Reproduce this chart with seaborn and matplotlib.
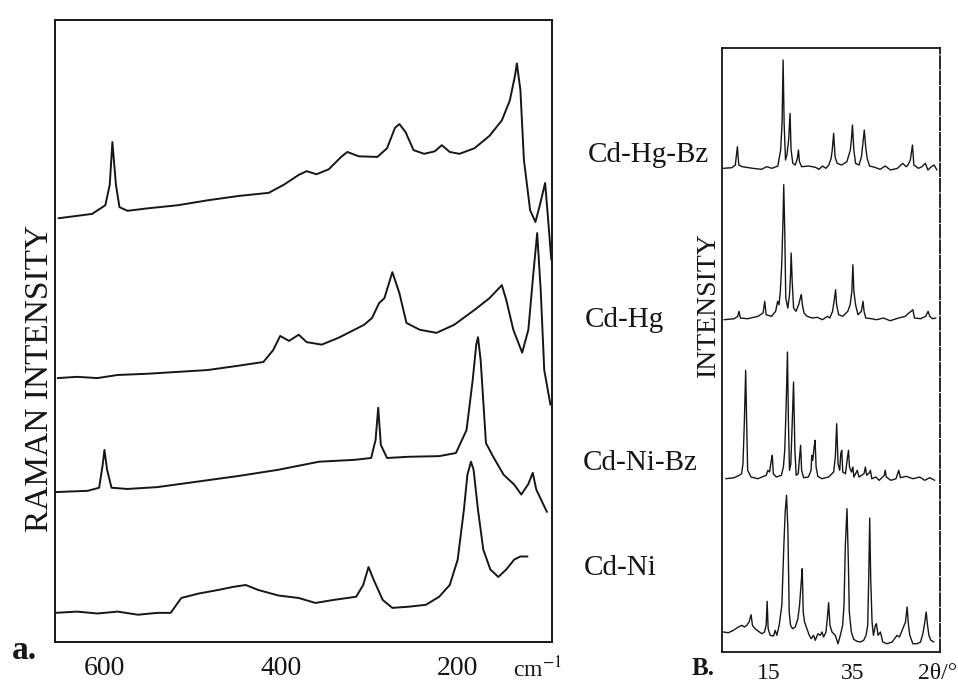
import numpy as np
import pandas as pd
import seaborn as sns
import matplotlib.pyplot as plt

# ---------------- Raman spectra (wavenumber cm-1, intensity a.u. above own baseline) ----------------
hgbz_cm = [652, 614, 599, 594, 591, 587, 583, 574, 551, 517, 483, 448, 414, 397, 380, 371, 360, 346, 332,
           325, 312, 291, 280, 271, 266, 259, 250, 238, 226, 218, 209, 198, 181, 164, 150, 141, 135, 133,
           129, 125, 118, 112, 107, 101, 98, 94]
hgbz_int = [6.9, 7.6, 9.0, 12.3, 19.2, 12.3, 8.7, 8.1, 8.5, 9.0, 9.8, 10.5, 11.0, 12.3, 13.9, 14.5, 14.0,
            14.8, 16.8, 17.6, 16.9, 16.8, 18.2, 21.5, 22.1, 20.8, 17.9, 17.3, 17.7, 18.7, 17.6, 17.3, 18.2,
            20.2, 22.7, 25.9, 30.0, 31.9, 27.6, 16.3, 8.2, 6.3, 9.0, 12.6, 7.4, 0.2]

hg_cm = [653, 631, 608, 585, 551, 517, 483, 448, 420, 409, 401, 391, 380, 371, 354, 335, 317, 306, 297,
         289, 283, 274, 266, 258, 243, 224, 204, 181, 164, 150, 145, 137, 127, 120, 114, 110, 106, 102, 95]
hg_int = [5.1, 5.3, 5.1, 5.6, 5.8, 6.1, 6.4, 7.1, 7.7, 9.6, 11.9, 11.1, 12.1, 10.9, 10.5, 11.6, 12.9, 13.7,
          14.8, 17.2, 18.0, 22.2, 18.8, 14.0, 12.9, 12.4, 13.7, 16.1, 18.0, 20.1, 17.7, 12.9, 9.2, 12.9,
          22.5, 28.5, 19.3, 6.4, 0.8]

nibz_cm = [655, 619, 606, 602, 600, 597, 592, 574, 540, 494, 448, 403, 357, 317, 298, 293, 290, 287, 280,
           255, 221, 202, 190, 183, 179, 177, 174, 168, 159, 148, 136, 128, 120, 115, 111, 99]
nibz_int = [3.7, 3.9, 4.4, 8.1, 10.5, 7.3, 4.4, 4.2, 4.5, 5.4, 6.3, 7.3, 8.6, 8.9, 9.2, 12.1, 17.3, 11.3,
            9.2, 9.4, 9.5, 10.0, 13.7, 21.8, 27.5, 28.7, 25.0, 11.6, 9.2, 6.5, 4.9, 3.3, 5.0, 6.8, 4.1, 0.5]

ni_cm = [656, 631, 608, 585, 562, 540, 525, 513, 494, 471, 454, 440, 426, 403, 380, 361, 340, 315, 307,
         301, 295, 285, 274, 255, 236, 221, 209, 200, 193, 189, 185, 182, 177, 171, 163, 154, 145, 136,
         129, 121]
ni_int = [3.2, 3.4, 3.1, 3.4, 2.9, 3.2, 3.2, 5.6, 6.3, 6.9, 7.4, 7.7, 6.9, 6.0, 5.6, 4.8, 5.3, 5.8, 7.7,
          10.6, 8.5, 5.3, 4.0, 4.2, 4.5, 5.8, 7.7, 11.8, 19.8, 25.5, 27.6, 26.3, 19.8, 13.4, 10.2, 9.0,
          10.2, 11.8, 12.3, 12.3]

raman_names = ['Cd-Hg-Bz', 'Cd-Hg', 'Cd-Ni-Bz', 'Cd-Ni']
raman_x = [hgbz_cm, hg_cm, nibz_cm, ni_cm]
raman_y = [hgbz_int, hg_int, nibz_int, ni_int]
raman_offset = [60, 36, 19, 0]

# ---------------- XRD patterns (2theta deg, intensity a.u. above own baseline) ----------------
x_hgbz_2t = [4.25, 6.31, 7.14, 7.63, 7.96, 8.79, 11.26, 13.32, 14.56, 15.80, 17.20, 17.87, 18.20, 18.45,
             18.69, 19.02, 19.35, 19.76, 20.09, 20.34, 20.75, 21.32, 21.83, 22.08, 22.32, 22.82, 24.47,
             26.12, 26.95, 27.77, 28.59, 29.26, 29.82, 30.08, 30.41, 30.74, 31.24, 32.30, 33.54, 34.36,
             34.61, 34.86, 35.19, 35.60, 36.42, 36.99, 37.42, 37.66, 37.99, 38.34, 38.91, 40.15, 41.39,
             42.63, 43.86, 45.52, 46.76, 47.57, 47.99, 48.56, 49.06, 49.40, 50.47, 51.29, 52.12, 52.71,
             53.53, 54.19, 54.85]
x_hgbz_int = [1.7, 2.3, 5.0, 23.3, 5.0, 3.3, 1.7, 0.7, 3.3, 1.7, 4.0, 20.0, 46.7, 110.0, 46.7, 10.0, 15.0,
              30.0, 56.7, 20.0, 6.7, 5.0, 11.7, 20.0, 8.3, 3.3, 4.0, 2.7, 0.7, 4.0, 1.7, 5.0, 11.7, 20.0,
              36.7, 13.3, 6.7, 5.0, 8.3, 20.0, 30.0, 45.0, 20.0, 6.7, 5.0, 13.3, 30.0, 40.0, 23.3, 11.7,
              4.0, 2.7, 0.7, 4.0, 0.0, 1.7, 6.7, 3.3, 5.0, 10.0, 25.0, 5.0, 1.7, 3.3, 6.7, 0.0, 3.3, 5.0,
              0.0]

x_hg_2t = [4.48, 6.89, 7.69, 8.01, 8.33, 10.09, 12.50, 13.70, 14.11, 14.43, 15.71, 16.68, 17.16, 17.48,
           17.80, 18.12, 18.44, 18.60, 18.84, 19.08, 19.56, 19.97, 20.21, 20.36, 20.60, 20.93, 21.49,
           22.13, 22.53, 22.77, 23.01, 23.41, 24.13, 25.34, 26.54, 27.74, 28.95, 29.50, 30.15, 30.63,
           30.87, 31.11, 31.59, 32.56, 33.76, 34.32, 34.72, 34.96, 35.20, 35.60, 36.17, 36.97, 37.37,
           37.61, 38.01, 39.37, 40.57, 42.18, 43.78, 45.79, 47.39, 48.19, 48.75, 49.15, 49.55, 50.99,
           52.19, 52.76, 53.16, 53.80, 54.61]
x_hg_int = [3.3, 4.3, 6.7, 11.7, 5.0, 4.3, 6.7, 10.0, 21.7, 8.3, 6.7, 11.7, 21.7, 18.3, 31.7, 58.3, 105.0,
            138.3, 91.7, 25.0, 15.0, 28.3, 48.3, 70.0, 41.7, 15.0, 11.7, 18.3, 25.0, 28.3, 18.3, 10.0, 6.7,
            5.0, 5.7, 3.3, 6.7, 5.0, 11.7, 25.0, 33.3, 18.3, 8.3, 6.7, 11.7, 18.3, 31.7, 58.3, 31.7, 18.3,
            8.3, 11.7, 21.7, 11.7, 5.0, 4.3, 3.3, 5.0, 2.3, 5.0, 6.7, 10.0, 11.7, 13.3, 5.0, 4.3, 6.7,
            11.7, 6.7, 4.3, 5.0]

x_nibz_2t = [4.88, 6.87, 8.07, 8.63, 8.95, 9.27, 9.59, 9.83, 10.06, 10.86, 12.46, 14.45, 14.85, 15.25,
             15.65, 15.89, 16.13, 16.85, 18.04, 18.52, 18.84, 19.16, 19.48, 19.72, 19.96, 20.28, 20.60,
             20.92, 21.24, 21.55, 22.03, 22.35, 22.59, 22.83, 23.31, 24.43, 25.07, 25.23, 25.47, 25.79,
             26.02, 26.26, 26.66, 27.62, 29.22, 30.41, 30.81, 31.13, 31.45, 31.85, 32.09, 32.33, 32.57,
             33.21, 33.69, 33.93, 34.16, 34.64, 34.96, 35.20, 36.00, 36.40, 37.60, 37.92, 38.24, 38.80,
             39.11, 39.43, 40.39, 41.19, 42.38, 42.62, 42.86, 43.98, 45.17, 45.81, 46.21, 47.57, 49.17,
             50.77, 51.96, 53.16, 54.35]
x_nibz_int = [3.3, 4.3, 6.7, 8.3, 18.3, 58.3, 111.7, 58.3, 11.7, 5.0, 3.3, 6.7, 11.7, 10.0, 21.7, 26.7,
              8.3, 5.0, 6.7, 15.0, 31.7, 75.0, 130.0, 58.3, 11.7, 18.3, 58.3, 100.0, 31.7, 6.7, 8.3, 25.0,
              36.7, 11.7, 4.3, 5.0, 11.7, 26.7, 21.7, 35.0, 41.7, 15.0, 5.7, 3.3, 5.0, 10.0, 25.0, 58.3,
              18.3, 11.7, 28.3, 31.7, 10.0, 8.3, 25.0, 31.7, 15.0, 10.0, 15.0, 5.0, 11.7, 5.0, 8.3, 15.0,
              6.7, 9.0, 11.7, 3.3, 5.0, 1.7, 6.7, 11.7, 5.0, 1.7, 3.3, 11.7, 4.3, 5.7, 3.3, 5.0, 1.7, 4.3,
              1.7]

x_ni_2t = [4.32, 5.50, 6.69, 7.87, 8.67, 9.30, 9.85, 10.40, 10.88, 11.19, 11.83, 12.62, 13.41, 14.04,
           14.44, 14.67, 14.91, 15.39, 16.18, 16.57, 16.97, 17.52, 18.15, 18.63, 18.94, 19.26, 19.58,
           19.89, 20.21, 20.68, 21.32, 21.95, 22.34, 22.74, 22.98, 23.21, 23.53, 24.08, 24.64, 25.11,
           25.66, 26.06, 26.69, 27.25, 27.64, 28.04, 28.59, 28.91, 29.22, 29.54, 30.02, 30.80, 31.44,
           31.99, 32.54, 32.86, 33.18, 33.57, 33.89, 34.12, 34.60, 35.15, 35.94, 36.73, 37.52, 38.08,
           38.47, 38.71, 38.95, 39.18, 39.50, 39.82, 40.29, 40.53, 40.92, 41.48, 42.03, 43.06, 44.24,
           45.43, 45.98, 46.62, 47.09, 47.41, 47.80, 48.12, 48.44, 49.15, 50.18, 50.97, 51.52, 51.99,
           52.31, 52.63, 52.95, 53.42, 54.13]
x_ni_int = [20.0, 19.3, 21.7, 25.0, 26.7, 25.0, 26.7, 30.0, 37.3, 26.7, 23.3, 20.7, 18.3, 20.0, 26.7,
            50.7, 23.3, 16.7, 16.0, 21.7, 16.7, 26.7, 46.7, 106.7, 140.0, 156.7, 123.3, 40.0, 26.7, 23.3,
            25.0, 33.3, 46.7, 70.0, 83.3, 40.0, 30.0, 23.3, 16.7, 13.3, 16.7, 11.7, 18.3, 16.7, 20.0,
            15.0, 20.0, 33.3, 49.3, 26.7, 20.0, 16.7, 8.3, 16.7, 26.7, 46.7, 106.7, 143.3, 90.0, 40.0,
            20.0, 12.7, 10.7, 10.0, 11.7, 16.7, 26.7, 73.3, 134.0, 73.3, 30.0, 16.7, 26.7, 28.3, 16.7,
            20.0, 10.0, 8.3, 10.0, 16.7, 15.0, 21.7, 26.7, 30.0, 45.0, 26.7, 16.7, 8.3, 8.3, 10.0, 18.3,
            30.0, 40.0, 26.7, 16.7, 11.7, 10.0]

xrd_x = [x_hgbz_2t, x_hg_2t, x_nibz_2t, x_ni_2t]
xrd_y = [x_hgbz_int, x_hg_int, x_nibz_int, x_ni_int]
xrd_offset = [482, 329, 170, 0]

# ------------------------------------ plotting ------------------------------------
sns.set_theme(style="white")
plt.rcParams['font.family'] = ['Liberation Serif', 'DejaVu Serif']
plt.rcParams['mathtext.fontset'] = 'stix'
ink = '#161616'

fig = plt.figure(figsize=(9.58, 6.88), dpi=100)
ax_r = fig.add_axes([0.0574, 0.0669, 0.519, 0.904])
ax_x = fig.add_axes([0.7537, 0.0523, 0.2276, 0.8779])

for name, xs, ys, off in zip(raman_names, raman_x, raman_y, raman_offset):
    d = pd.DataFrame({'cm': xs, 'I': np.array(ys) + off})
    sns.lineplot(data=d, x='cm', y='I', ax=ax_r, color=ink, lw=1.4, estimator=None, sort=False)

for xs, ys, off in zip(xrd_x, xrd_y, xrd_offset):
    d = pd.DataFrame({'tt': xs, 'I': np.array(ys) + off})
    sns.lineplot(data=d, x='tt', y='I', ax=ax_x, color=ink, lw=1.0, estimator=None, sort=False)

# left panel: Raman
ax_r.set_xlim(656, 93)
ax_r.set_ylim(-1.5, 98.9)
ax_r.set_xticks([600, 400, 200])
ax_r.set_xticklabels(['600', '400', '200'], fontsize=20)
ax_r.set_yticks([])
ax_r.tick_params(axis='x', direction='in', length=6, width=1.3, colors=ink, pad=10)
ax_r.set_xlabel('')
ax_r.set_ylabel('')
for s in ax_r.spines.values():
    s.set_color(ink)
    s.set_linewidth(1.4)
ax_r.text(0.97, -0.045, 'cm$^{-1}$', transform=ax_r.transAxes, fontsize=17, color=ink,
          ha='center', va='center')
fig.text(40 / 958, 1 - 378 / 688, 'RAMAN INTENSITY', rotation=90, fontsize=24, color=ink,
         ha='center', va='center')

# right panel: XRD
ax_x.set_xlim(4, 55.6)
ax_x.set_ylim(0, 604)
ax_x.set_xticks([15, 35, 55])
ax_x.set_xticklabels(['15', '35', '2θ/°'], fontsize=17)
ax_x.set_yticks([])
ax_x.tick_params(axis='x', length=0, pad=8, colors=ink)
ax_x.set_xlabel('')
ax_x.set_ylabel('')
for s in ax_x.spines.values():
    s.set_color(ink)
    s.set_linewidth(1.3)
ax_x.spines['right'].set_linestyle((0, (7, 1.5)))
fig.text(708 / 958, 1 - 305 / 688, 'INTENSITY', rotation=90, fontsize=20, color=ink,
         ha='center', va='center')

# sample labels between the panels
label_pos = [(0.614, 0.775), (0.610, 0.535), (0.608, 0.327), (0.609, 0.174)]
for name, (lx, ly) in zip(raman_names, label_pos):
    fig.text(lx, ly, name, fontsize=21, color=ink, ha='left', va='center')

fig.text(0.012, 0.055, 'a.', fontsize=24, fontweight='bold', color=ink, ha='left', va='center')
fig.text(0.722, 0.028, 'B.', fontsize=18, fontweight='bold', color=ink, ha='left', va='center')

plt.savefig('out.png', dpi=100, facecolor='white')
